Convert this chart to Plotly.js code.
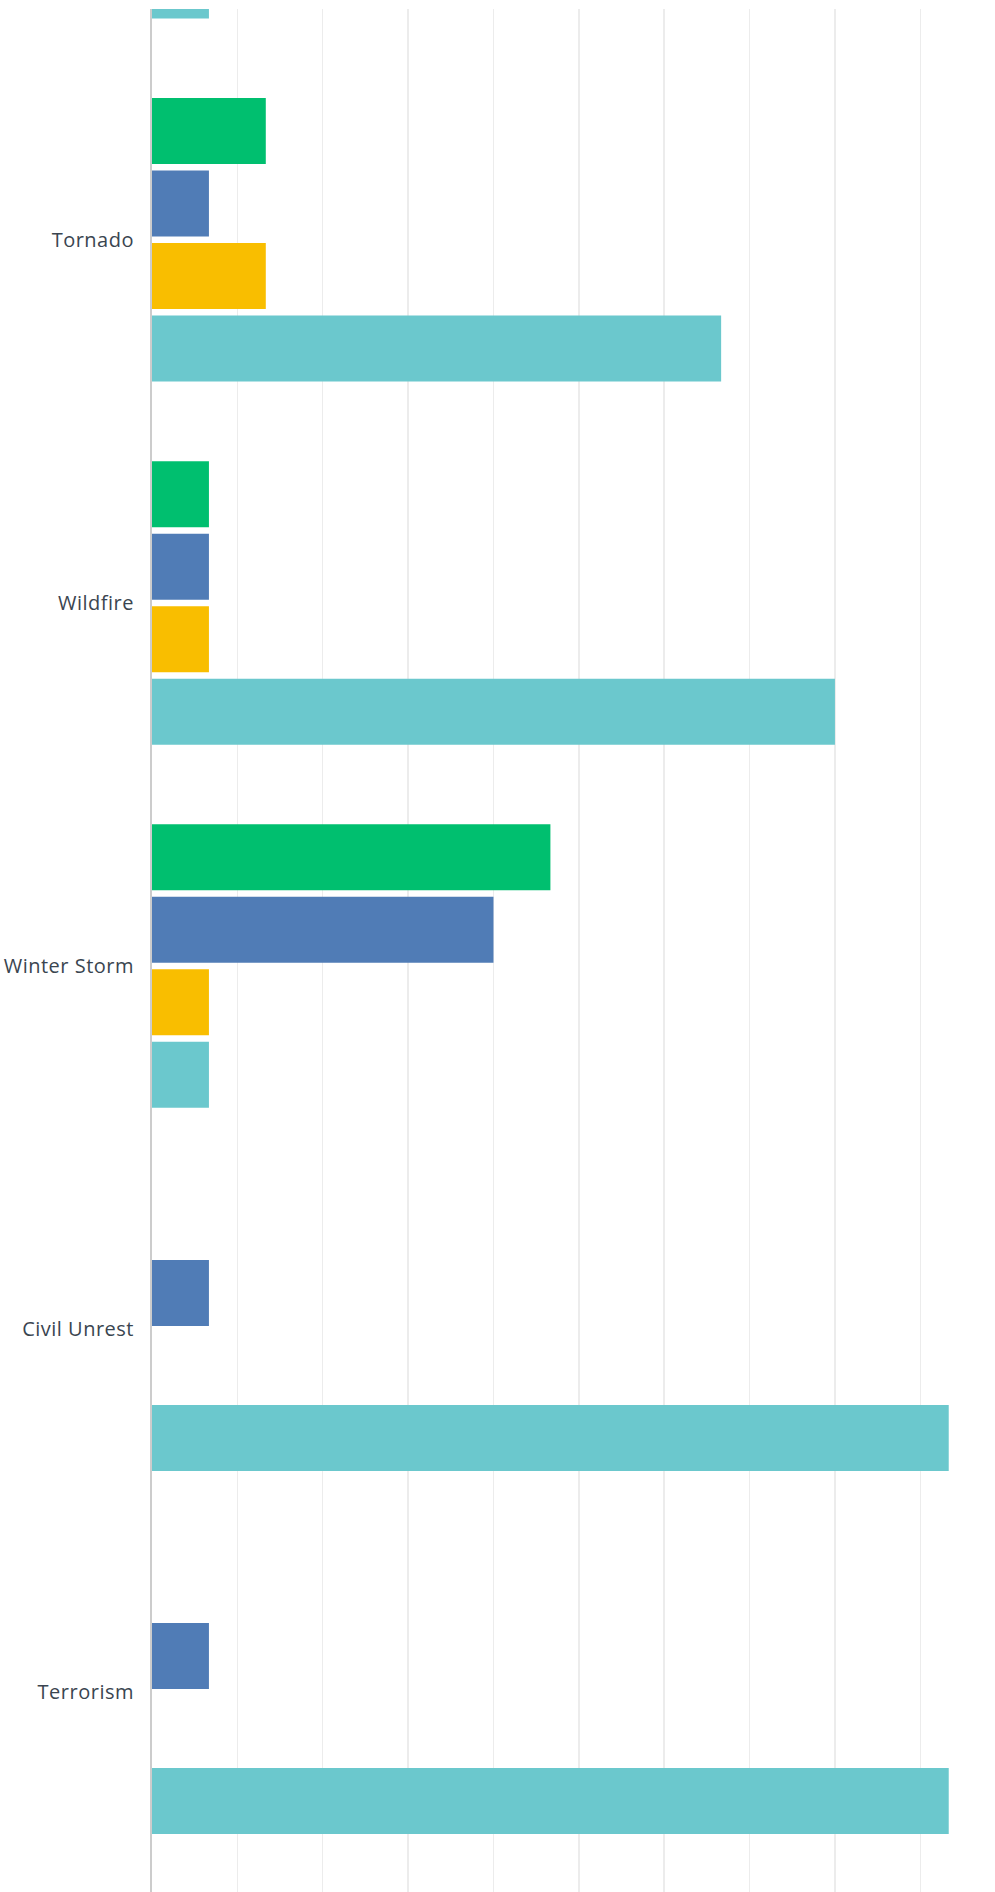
<!DOCTYPE html>
<html>
<head>
<meta charset="utf-8">
<script src="https://cdn.plot.ly/plotly-3.0.1.min.js"></script>
<style>
  html, body { margin: 0; padding: 0; background: #ffffff; }
  #chart { width: 995px; height: 1892px; }
  #chart .ytick text { letter-spacing: 0.5px; }
</style>
</head>
<body>
<div id="chart"></div>
<script>
// Categories (the first one is cut off at the top of the reference)
const categories = ["Hurricane", "Tornado", "Wildfire", "Winter Storm", "Civil Unrest", "Terrorism"];

// Series values (percent of respondents)
const seriesNames = ["Series 1", "Series 2", "Series 3", "Series 4"];
const greenValues  = [0,     13.33, 6.67,  46.67, 0,     0];
const blueValues   = [0,     6.67,  6.67,  40.00, 6.67,  6.67];
const yellowValues = [0,     13.33, 6.67,  6.67,  0,     0];
const tealValues   = [6.67,  66.67, 80.00, 6.67,  93.33, 93.33];

const colors = ["#00BF6F", "#507CB6", "#F9BE00", "#6BC8CD"];
const allValues = [greenValues, blueValues, yellowValues, tealValues];

const traces = allValues.map((vals, i) => ({
  type: "bar",
  orientation: "h",
  name: seriesNames[i],
  y: categories,
  x: vals,
  marker: { color: colors[i], line: { width: 0 } },
  hoverinfo: "x+y"
}));

const layout = {
  width: 995,
  height: 1892,
  margin: { l: 152, r: 0, t: 9, b: 0, pad: 0 },
  paper_bgcolor: "#ffffff",
  plot_bgcolor: "#ffffff",
  showlegend: false,
  barmode: "group",
  bargap: 0.2013,
  bargroupgap: 0.09,
  font: { family: "Open Sans, sans-serif", size: 20, color: "#333e48" },
  xaxis: {
    range: [0, 98.75],
    dtick: 10,
    tick0: 0,
    showgrid: true,
    gridcolor: "#ececec",
    gridwidth: 1.5,
    zeroline: false,
    showline: false,
    showticklabels: false,
    ticks: ""
  },
  yaxis: {
    type: "category",
    range: [5.550, 0.3645],
    showgrid: false,
    zeroline: false,
    showline: true,
    linecolor: "#cccccc",
    linewidth: 2,
    ticks: "",
    ticklabelstandoff: 12,
    tickfont: { family: "Open Sans, sans-serif", size: 20, color: "#3a4550" }
  }
};

Plotly.newPlot("chart", traces, layout, { displayModeBar: false, staticPlot: true });
</script>
</body>
</html>
